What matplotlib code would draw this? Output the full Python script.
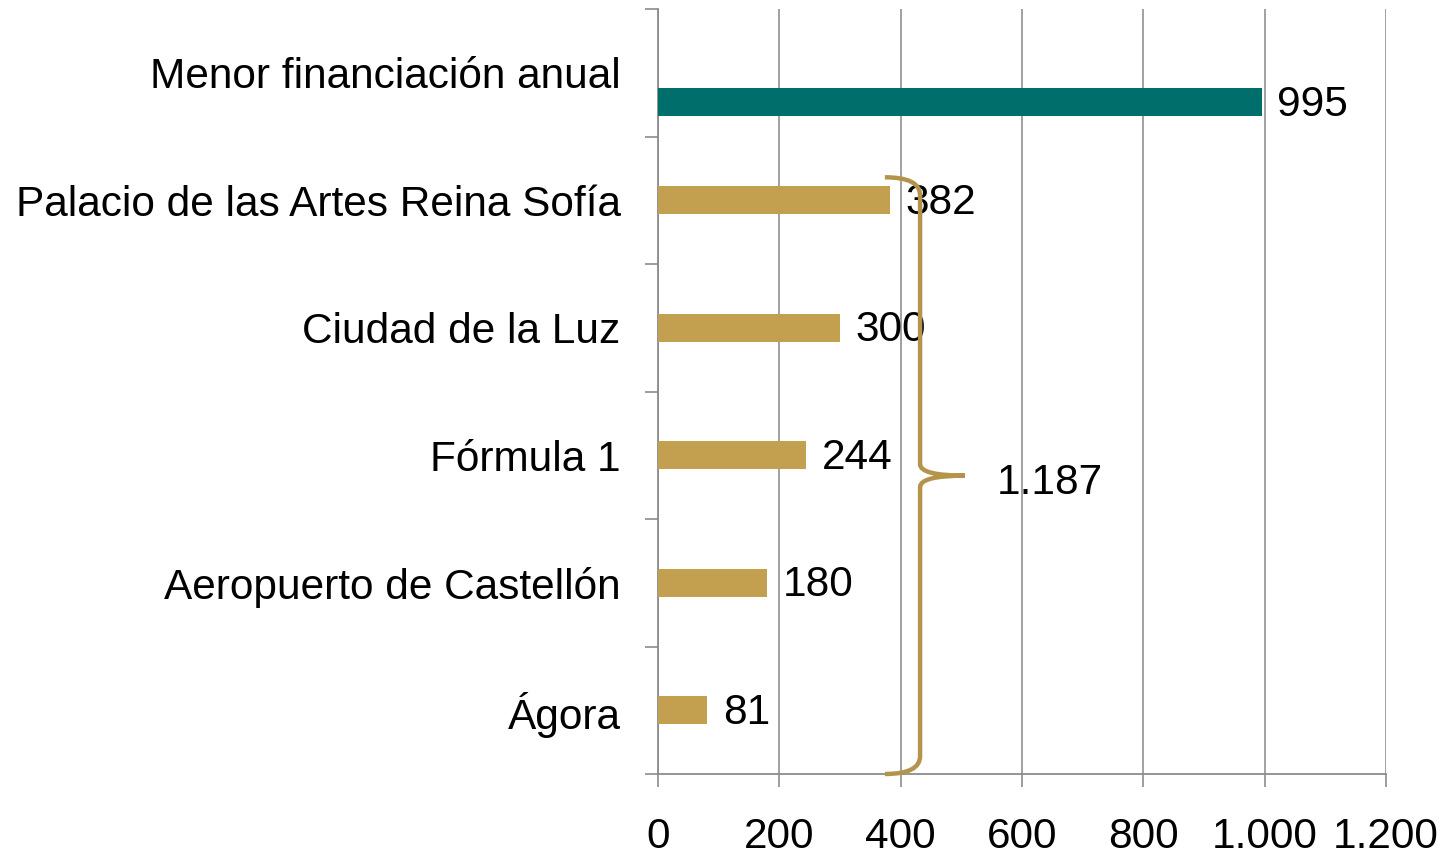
import matplotlib
matplotlib.use("Agg")
import matplotlib.pyplot as plt
from matplotlib.path import Path
from matplotlib.patches import PathPatch
import numpy as np

plt.rcParams['font.family'] = ['Liberation Sans', 'DejaVu Sans']

categories = ["Menor financiación anual", "Palacio de las Artes Reina Sofía",
              "Ciudad de la Luz", "Fórmula 1", "Aeropuerto de Castellón", "Ágora"]
values = [995, 382, 300, 244, 180, 81]
bar_colors = ["#006E6B", "#C3A04F", "#C3A04F", "#C3A04F", "#C3A04F", "#C3A04F"]
x_ticks = [0, 200, 400, 600, 800, 1000, 1200]
x_tick_labels = ["0", "200", "400", "600", "800", "1.000", "1.200"]

FS = 30.5

def fmt_es(v):
    return f"{v:,}".replace(",", ".")

fig = plt.figure(figsize=(14.54, 8.56), dpi=100)
ax = fig.add_axes([658/1454, (856-774)/856, (1386-658)/1454, (774-9)/856])

n = len(categories)
pos = np.arange(n, dtype=float)
offsets = np.zeros(n)
offsets[0] = 0.23  # first series drawn in second slot of the cluster
ax.barh(pos + offsets, values, height=0.22, color=bar_colors, zorder=3)

for p, o, v in zip(pos, offsets, values):
    ax.text(v + 26, p + o + 0.02, fmt_es(v), va='center', ha='left', fontsize=FS, color='black', zorder=4)

ax.set_xlim(0, 1200)
ax.set_ylim(n - 0.5, -0.5)
ax.set_xticks(x_ticks)
ax.set_xticklabels(x_tick_labels, fontsize=FS)
ax.set_yticks(pos)
ax.set_yticklabels(categories, fontsize=FS)
ax.set_yticks(np.arange(-0.5, n, 1.0), minor=True)
ax.tick_params(axis='y', which='major', length=0, pad=27)
ax.tick_params(axis='y', which='minor', length=9.5, width=1.2, color='#8C8C8C')
ax.tick_params(axis='x', which='major', length=9, width=1.2, color='#8C8C8C', pad=22)

ax.grid(axis='x', color='#9A9A9A', linewidth=1.3, zorder=0)
ax.set_axisbelow(True)
for s in ['top', 'right']:
    ax.spines[s].set_visible(False)
for s in ['left', 'bottom']:
    ax.spines[s].set_color('#8C8C8C')
    ax.spines[s].set_linewidth(1.3)

# curly brace grouping the gold bars
gold_total = sum(values[1:])
y_top, y_bot, y_mid = 0.82, 5.5, 3.16
x0, x1, xt = 374, 432, 506
r = 0.07
verts = [
    (x0, y_top), (x1, y_top), (x1, y_top + 2*r),
    (x1, y_mid - 0.09), (x1, y_mid), (xt, y_mid),
    (x1, y_mid), (x1, y_mid + 0.09),
    (x1, y_bot - 2*r), (x1, y_bot), (x0, y_bot),
]
codes = [Path.MOVETO, Path.CURVE3, Path.CURVE3,
         Path.LINETO, Path.CURVE3, Path.CURVE3,
         Path.CURVE3, Path.CURVE3,
         Path.LINETO, Path.CURVE3, Path.CURVE3]
brace = PathPatch(Path(verts, codes), facecolor='none', edgecolor='#B3944A',
                  linewidth=3.2, zorder=5, clip_on=False, capstyle='butt')
ax.add_patch(brace)
ax.text(559, y_mid + 0.06, fmt_es(gold_total), ha='left', va='center', fontsize=FS, zorder=6)

fig.savefig("out.png", dpi=100)
